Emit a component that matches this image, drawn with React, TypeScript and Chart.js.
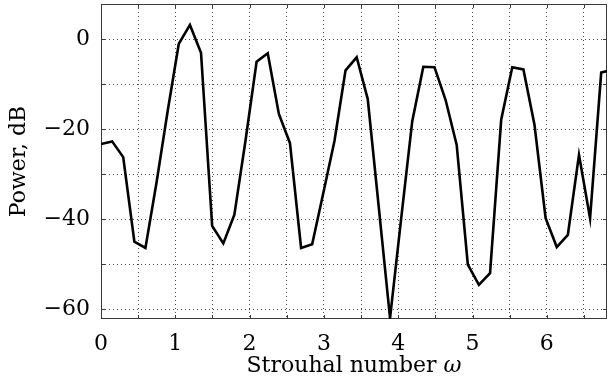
import React, { useEffect, useRef } from "react";
import { Chart, registerables } from "chart.js";

Chart.register(...registerables);

// Strouhal number (x) of each sample
const strouhal = [
  0.0, 0.15, 0.299, 0.449, 0.598, 0.748, 0.898, 1.047, 1.197, 1.346,
  1.496, 1.646, 1.795, 1.945, 2.094, 2.244, 2.394, 2.543, 2.693, 2.842,
  2.992, 3.142, 3.291, 3.441, 3.59, 3.74, 3.89, 4.039, 4.189, 4.338,
  4.488, 4.638, 4.787, 4.937, 5.086, 5.236, 5.386, 5.535, 5.685, 5.834,
  5.984, 6.134, 6.283, 6.433, 6.582, 6.732, 6.882,
];

// Power in dB
const powerDb = [
  -23.3, -22.7, -26.2, -45.0, -46.4, -31.8, -15.9, -1.0, 3.2, -3.0,
  -41.5, -45.4, -39.0, -22.5, -5.0, -3.1, -16.6, -23.1, -46.4, -45.6,
  -34.2, -22.6, -6.9, -4.0, -13.3, -37.6, -62.0, -40.0, -18.2, -6.1,
  -6.2, -13.5, -23.5, -50.1, -54.6, -52.0, -17.9, -6.2, -6.7, -19.0,
  -39.8, -46.2, -43.5, -25.7, -39.8, -7.4, -6.8,
];

const xGridTicks = [0, 0.5, 1, 1.5, 2, 2.5, 3, 3.5, 4, 4.5, 5, 5.5, 6, 6.5];
const xLabelTicks = [0, 1, 2, 3, 4, 5, 6];
const yGridTicks = [-60, -50, -40, -30, -20, -10, 0];
const yLabelTicks = [-60, -40, -20, 0];

const xTitle = "Strouhal number ";
const xTitleSymbol = "ω";
const yTitle = "Power, dB";

const FONT = "'DejaVu Serif', serif";
const FONT_SIZE = 22;

const fmt = (v: number) => (v < 0 ? "\u2212" + Math.abs(v) : String(v));

const framePlugin = {
  id: "frameAndTitles",
  beforeDatasetsDraw(chart: any) {
    const { ctx, chartArea } = chart;
    ctx.save();
    ctx.strokeStyle = "#3a3a3a";
    ctx.lineWidth = 1;
    ctx.strokeRect(
      Math.round(chartArea.left) + 0.5,
      Math.round(chartArea.top) + 0.5,
      Math.round(chartArea.right - chartArea.left) - 1,
      Math.round(chartArea.bottom - chartArea.top) - 1
    );
    // small inner tick marks
    const xs = chart.scales.x;
    const ys = chart.scales.y;
    ctx.beginPath();
    xGridTicks.forEach((v) => {
      const px = Math.round(xs.getPixelForValue(v)) + 0.5;
      ctx.moveTo(px, chartArea.bottom);
      ctx.lineTo(px, chartArea.bottom - 4);
      ctx.moveTo(px, chartArea.top);
      ctx.lineTo(px, chartArea.top + 4);
    });
    yGridTicks.forEach((v) => {
      const py = Math.round(ys.getPixelForValue(v)) + 0.5;
      ctx.moveTo(chartArea.left, py);
      ctx.lineTo(chartArea.left + 4, py);
      ctx.moveTo(chartArea.right, py);
      ctx.lineTo(chartArea.right - 4, py);
    });
    ctx.stroke();
    ctx.restore();
  },
  afterDraw(chart: any) {
    const { ctx, chartArea } = chart;
    ctx.save();
    ctx.fillStyle = "#000";
    ctx.textBaseline = "middle";
    // x title
    ctx.font = `${FONT_SIZE}px ${FONT}`;
    const w1 = ctx.measureText(xTitle).width;
    ctx.font = `italic ${FONT_SIZE}px ${FONT}`;
    const w2 = ctx.measureText(xTitleSymbol).width;
    const cx = (chartArea.left + chartArea.right) / 2;
    const startX = cx - (w1 + w2) / 2;
    const ty = 366;
    ctx.textAlign = "left";
    ctx.font = `${FONT_SIZE}px ${FONT}`;
    ctx.fillText(xTitle, startX, ty);
    ctx.font = `italic ${FONT_SIZE}px ${FONT}`;
    ctx.fillText(xTitleSymbol, startX + w1, ty);
    // y title
    ctx.font = `${FONT_SIZE}px ${FONT}`;
    ctx.translate(19, (chartArea.top + chartArea.bottom) / 2);
    ctx.rotate(-Math.PI / 2);
    ctx.textAlign = "center";
    ctx.fillText(yTitle, 0, 0);
    ctx.restore();
  },
};

export default function App() {
  const canvasRef = useRef<HTMLCanvasElement | null>(null);

  useEffect(() => {
    document.body.style.margin = "0";
    const canvas = canvasRef.current;
    if (!canvas) return;
    const data = strouhal.map((x, i) => ({ x, y: powerDb[i] }));
    const chart = new Chart(canvas, {
      type: "line",
      data: {
        datasets: [
          {
            data,
            borderColor: "#000",
            borderWidth: 2.6,
            borderJoinStyle: "miter",
            pointRadius: 0,
            fill: false,
            tension: 0,
          },
        ],
      },
      options: {
        animation: false,
        responsive: false,
        devicePixelRatio: 1,
        layout: { padding: { left: 0, right: 2, top: 4, bottom: 0 } },
        plugins: {
          legend: { display: false },
          tooltip: { enabled: false },
        },
        scales: {
          x: {
            type: "linear",
            min: 0,
            max: 6.81,
            afterBuildTicks: (scale: any) => {
              scale.ticks = xGridTicks.map((v) => ({ value: v }));
            },
            afterFit: (scale: any) => {
              scale.height = 69;
              scale.paddingLeft = 0;
              scale.paddingRight = 0;
            },
            grid: {
              color: "rgba(0,0,0,0.7)",
              lineWidth: 1,
              drawTicks: false,
            },
            border: { display: false, dash: [1, 3] },
            ticks: {
              autoSkip: false,
              maxRotation: 0,
              padding: 12,
              color: "#000",
              font: { family: FONT, size: FONT_SIZE },
              callback: (v: any) =>
                xLabelTicks.includes(Number(v)) ? fmt(Number(v)) : "",
            },
          },
          y: {
            type: "linear",
            min: -62.2,
            max: 7.85,
            afterBuildTicks: (scale: any) => {
              scale.ticks = yGridTicks.map((v) => ({ value: v }));
            },
            afterFit: (scale: any) => {
              scale.width = 101;
              scale.paddingTop = 0;
              scale.paddingBottom = 0;
            },
            grid: {
              color: "rgba(0,0,0,0.7)",
              lineWidth: 1,
              drawTicks: false,
            },
            border: { display: false, dash: [1, 3] },
            ticks: {
              autoSkip: false,
              padding: 11,
              color: "#000",
              font: { family: FONT, size: FONT_SIZE },
              callback: (v: any) =>
                yLabelTicks.includes(Number(v)) ? fmt(Number(v)) : "",
            },
          },
        },
      },
      plugins: [framePlugin],
    });
    return () => chart.destroy();
  }, []);

  return (
    <div style={{ position: "fixed", left: 0, top: 0, width: 609, height: 388 }}>
      <canvas ref={canvasRef} width={609} height={388} />
    </div>
  );
}
